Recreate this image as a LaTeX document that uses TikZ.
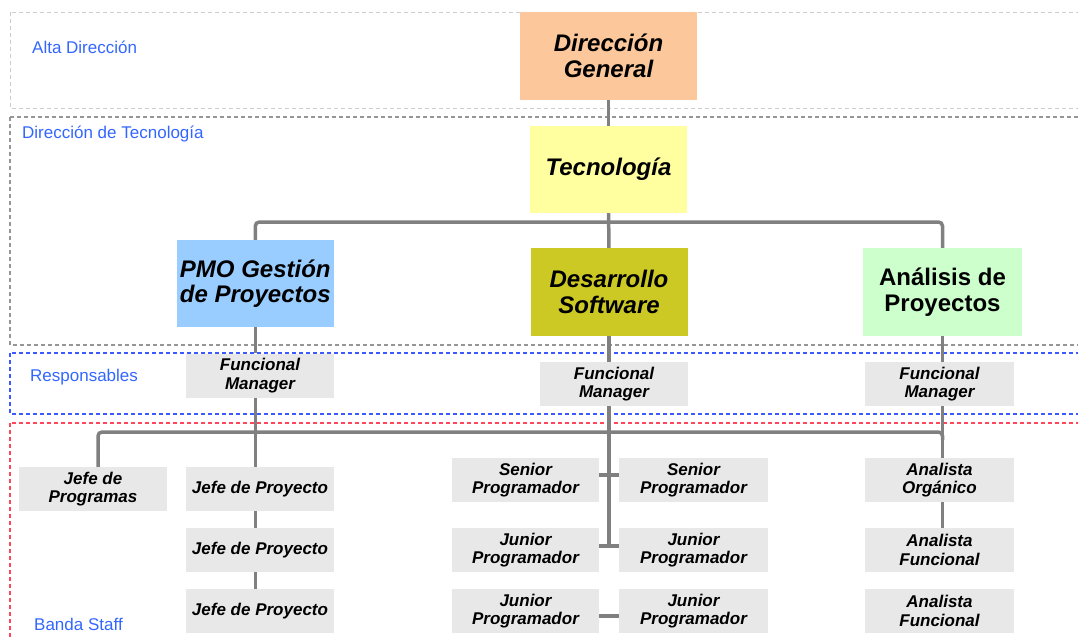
\documentclass[tikz,border=0pt]{standalone}
\usepackage{fontspec}
\setmainfont{Liberation Sans}
\definecolor{linegray}{RGB}{128,128,128}
\definecolor{boxgray}{RGB}{232,232,232}
\definecolor{labelblue}{RGB}{51,102,255}
\definecolor{bandlight}{RGB}{205,205,205}
\definecolor{bandgray}{RGB}{150,150,150}
\definecolor{bandblue}{RGB}{60,90,255}
\definecolor{bandred}{RGB}{255,70,90}
\definecolor{peach}{RGB}{252,200,155}
\definecolor{paleyellow}{RGB}{255,255,160}
\definecolor{skyblue}{RGB}{153,204,255}
\definecolor{olive}{RGB}{205,201,36}
\definecolor{mint}{RGB}{204,255,204}
\tikzset{
  bigbox/.style={minimum width=157pt, minimum height=87pt, inner sep=0pt, align=center,
    font=\fontsize{24}{25.5}\selectfont\bfseries\itshape},
  smallbox/.style={fill=boxgray, minimum width=148pt, minimum height=44pt, inner sep=0pt,
    align=center, font=\fontsize{17}{18.5}\selectfont\bfseries\itshape},
  conn/.style={draw=linegray, line width=3.5pt},
  bandlabel/.style={text=labelblue, font=\fontsize{17}{20}\selectfont, anchor=base west, inner sep=0pt},
  band/.style={dash pattern=on 4pt off 3pt},
}
\begin{document}
\begin{tikzpicture}[x=1pt, y=-1pt]
\useasboundingbox (0,0) rectangle (1078,637);
\clip (0,0) rectangle (1078,637);

% organisational bands
\draw[band, draw=bandlight, line width=1pt] (10,12) rectangle (1100,108);
\draw[band, draw=bandgray, line width=1.5pt] (10,117) rectangle (1100,345);
\draw[band, draw=bandblue, line width=1.5pt] (10,353) rectangle (1100,414);
\draw[band, draw=bandred, line width=2pt] (10,423) rectangle (1100,680);

\node[bandlabel] (lalta) at (32,53) {Alta Dirección};
\node[bandlabel] (ltec) at (22,138) {Dirección de Tecnología};
\node[bandlabel] (lresp) at (30,381) {Responsables};
\node[bandlabel] (lstaff) at (34,630) {Banda Staff};

% management boxes
\node[bigbox, fill=peach, minimum width=177pt, minimum height=88pt] (dg) at (608.5,56) {Dirección\\General};
\node[bigbox, fill=paleyellow] (tec) at (608.5,169.5) {Tecnología};
\node[bigbox, fill=skyblue] (pmo) at (255.3,283.5) {PMO Gestión\\de Proyectos};
\node[bigbox, fill=olive, minimum height=88pt] (des) at (609,292) {Desarrollo\\Software};
\node[bigbox, fill=mint, minimum width=159pt, minimum height=88pt, font=\fontsize{24}{25.5}\selectfont\bfseries] (ana) at (942.5,292) {Análisis de\\Proyectos};

% functional managers
\node[smallbox] (fm1) at (260,375.5) {Funcional\\Manager};
\node[smallbox] (fm2) at (614,384) {Funcional\\Manager};
\node[smallbox, minimum width=149pt] (fm3) at (939.5,384) {Funcional\\Manager};

% staff
\node[smallbox] (jprog) at (93,489) {Jefe de\\Programas};
\node[smallbox] (jp1) at (260,489) {Jefe de Proyecto};
\node[smallbox] (jp2) at (260,550) {Jefe de Proyecto};
\node[smallbox] (jp3) at (260,611) {Jefe de Proyecto};

\node[smallbox, minimum width=147pt] (sp1) at (525.5,480) {Senior\\Programador};
\node[smallbox, minimum width=149pt] (sp2) at (693.5,480) {Senior\\Programador};
\node[smallbox, minimum width=147pt] (jr1) at (525.5,550) {Junior\\Programador};
\node[smallbox, minimum width=149pt] (jr2) at (693.5,550) {Junior\\Programador};
\node[smallbox, minimum width=147pt] (jr3) at (525.5,611) {Junior\\Programador};
\node[smallbox, minimum width=149pt] (jr4) at (693.5,611) {Junior\\Programador};

\node[smallbox, minimum width=149pt] (ao) at (939.5,480) {Analista\\Orgánico};
\node[smallbox, minimum width=149pt] (af1) at (939.5,550) {Analista\\Funcional};
\node[smallbox, minimum width=149pt] (af2) at (939.5,611) {Analista\\Funcional};

% connectors: direction levels
\coordinate (topbar) at (609,222);
\coordinate (staffL) at (98,432);
\coordinate (staffR) at (942.5,432);
\coordinate (trunkend) at (609,546);

\draw[conn] (dg) -- (tec);
\draw[conn] (tec) -- (des);
\draw[conn, rounded corners=4pt] (pmo.north) |- (topbar) -| (ana.north);

\draw[conn] (pmo.south) -- (pmo.south |- fm1.north);
\draw[conn] (des.south) -- (des.south |- fm2.north);
\draw[conn] (ana.south) -- (ana.south |- fm3.north);

% connectors: staff level
\draw[conn] (pmo.south |- fm1.south) -- (pmo.south |- jp1.north);
\draw[conn, rounded corners=4pt] (jprog.north -| staffL) |- (staffR) -- ++(0,8);
\draw[conn] (ana.south |- fm3.south) -- (ana.south |- ao.north);
\draw[conn] (pmo.south |- jp1.south) -- (pmo.south |- jp2.north);
\draw[conn] (pmo.south |- jp2.south) -- (pmo.south |- jp3.north);

\draw[conn] (des.south |- fm2.south) -- (trunkend);
\draw[conn] ([yshift=5pt]sp1.east) -- ([yshift=5pt]sp2.west);
\draw[conn] ([yshift=4pt]jr1.east) -- ([yshift=4pt]jr2.west);
\draw[conn] ([yshift=-5pt]jr3.east) -- ([yshift=-5pt]jr4.west);

\draw[conn] (ana.south |- ao.south) -- (ana.south |- af1.north);
\end{tikzpicture}
\end{document}
